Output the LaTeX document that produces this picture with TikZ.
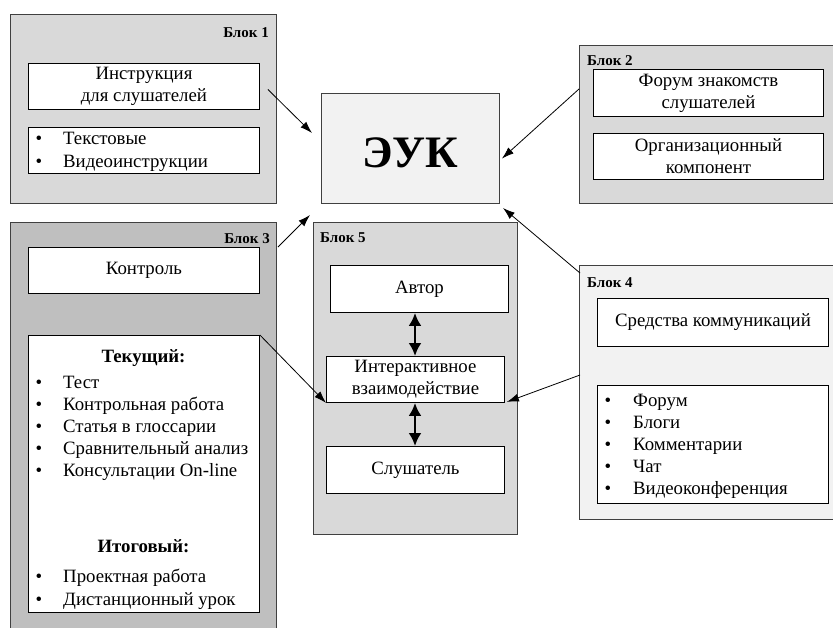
\documentclass[tikz,border=0pt]{standalone}
\usepackage{fontspec}
\setmainfont{Liberation Serif}
\usetikzlibrary{arrows.meta,calc}
\definecolor{gA}{HTML}{D9D9D9}
\definecolor{gB}{HTML}{BFBFBF}
\definecolor{gC}{HTML}{F2F2F2}
\newcommand\bodyf{\fontsize{18.8}{22}\selectfont}
\newcommand\lblf{\fontsize{15}{17}\selectfont\bfseries}
\begin{document}
\begin{tikzpicture}[x=1pt,y=-1pt,
  outer/.style={draw=black!75, line width=1pt, anchor=north west, inner sep=0pt, rectangle},
  inbox/.style={draw=black, line width=0.9pt, fill=white, anchor=north west, inner sep=0pt, align=center, font=\bodyf},
  lbl/.style={font=\lblf, inner sep=0pt},
  txt/.style={font=\bodyf, inner sep=0pt, anchor=base west},
  hdr/.style={font=\bodyf\bfseries, inner sep=0pt, anchor=base},
  bul/.style={font=\bodyf, inner sep=0pt, anchor=base},
  arr/.style={line width=0.8pt, -{Latex[length=12pt,width=8pt]}},
  dbl/.style={line width=2.5pt, {Latex[length=13pt,width=13pt]}-{Latex[length=13pt,width=13pt]}}
]
\useasboundingbox (0,0) rectangle (833,627);
% outer blocks
\node[outer, fill=gA, minimum width=266pt, minimum height=189pt] (b1) at (10,14) {};
\node[outer, fill=gA, minimum width=261pt, minimum height=158pt] (b2) at (579,45) {};
\node[outer, fill=gB, minimum width=266pt, minimum height=418pt] (b3) at (10,222) {};
\node[outer, fill=gA, minimum width=204pt, minimum height=312pt] (b5) at (313,222) {};
\node[outer, fill=gC, minimum width=261pt, minimum height=254pt] (b4) at (579,265) {};
\node[outer, fill=gC, minimum width=178pt, minimum height=110pt] (euk) at (321,93) {};
\node[font=\fontsize{45}{50}\selectfont\bfseries, inner sep=0pt] (eukt) at ($(euk.center)+(0,4)$) {ЭУК};
% labels
\node[lbl, anchor=base east] (l1) at (269,37) {Блок 1};
\node[lbl, anchor=base west] (l2) at (587,65) {Блок 2};
\node[lbl, anchor=base east] (l3) at (270,243) {Блок 3};
\node[lbl, anchor=base west] (l5) at (320,242) {Блок 5};
\node[lbl, anchor=base west] (l4) at (587,287) {Блок 4};
% block 1
\node[inbox, minimum width=231pt, minimum height=46pt] (b1i1) at (28,63) {Инструкция\\для слушателей};
\node[inbox, minimum width=231pt, minimum height=46pt] (b1i2) at (28,127) {};
\node[bul] (b1b1) at (39,144) {•};
\node[txt] (b1t1) at (63,144) {Текстовые};
\node[bul] (b1b2) at (39,167) {•};
\node[txt] (b1t2) at (63,167) {Видеоинструкции};
% block 2
\node[inbox, minimum width=230pt, minimum height=47pt] (b2i1) at (593,69) {Форум знакомств\\слушателей};
\node[inbox, minimum width=230pt, minimum height=46pt] (b2i2) at (593,133) {Организационный\\компонент};
% block 3
\node[inbox, minimum width=231pt, minimum height=46pt] (b3i1) at (28,247) {Контроль};
\node[inbox, minimum width=231pt, minimum height=277pt] (b3i2) at (28,335) {};
\node[hdr] (b3h1) at (143.5,362) {Текущий:};
\node[bul] (b3b1) at (39,388) {•};
\node[txt] (b3t1) at (63,388) {Тест};
\node[bul] (b3b2) at (39,410) {•};
\node[txt] (b3t2) at (63,410) {Контрольная работа};
\node[bul] (b3b3) at (39,432) {•};
\node[txt] (b3t3) at (63,432) {Статья в глоссарии};
\node[bul] (b3b4) at (39,454) {•};
\node[txt] (b3t4) at (63,454) {Сравнительный анализ};
\node[bul] (b3b5) at (39,476) {•};
\node[txt] (b3t5) at (63,476) {Консультации On-line};
\node[hdr] (b3h2) at (143.5,552) {Итоговый:};
\node[bul] (b3b6) at (39,582) {•};
\node[txt] (b3t6) at (63,582) {Проектная работа};
\node[bul] (b3b7) at (39,605) {•};
\node[txt] (b3t7) at (63,605) {Дистанционный урок};
% block 5
\node[inbox, minimum width=178pt, minimum height=47pt] (b5i1) at (330,265) {Автор};
\node[inbox, minimum width=178pt, minimum height=46pt] (b5i2) at (326,356) {Интерактивное\\взаимодействие};
\node[inbox, minimum width=178pt, minimum height=47pt] (b5i3) at (326,446) {Слушатель};
% block 4
\node[inbox, minimum width=231pt, minimum height=48pt] (b4i1) at (597,298) {Средства коммуникаций};
\node[inbox, minimum width=231pt, minimum height=118pt] (b4i2) at (597,385) {};
\node[bul] (b4b1) at (608,406) {•};
\node[txt] (b4t1) at (633,406) {Форум};
\node[bul] (b4b2) at (608,428) {•};
\node[txt] (b4t2) at (633,428) {Блоги};
\node[bul] (b4b3) at (608,450) {•};
\node[txt] (b4t3) at (633,450) {Комментарии};
\node[bul] (b4b4) at (608,472) {•};
\node[txt] (b4t4) at (633,472) {Чат};
\node[bul] (b4b5) at (608,494) {•};
\node[txt] (b4t5) at (633,494) {Видеоконференция};
% arrow end points
\coordinate (a1s) at ($(b1i1.east)+(8,3)$);
\coordinate (a1e) at ($(euk.north west)+(-9,40)$);
\coordinate (a2s) at ($(b2.north west)+(0,44)$);
\coordinate (a2e) at ($(euk.east)+(2,10)$);
\coordinate (a3s) at ($(b3.north east)+(1,25)$);
\coordinate (a3e) at ($(euk.south west)+(-11,11)$);
\coordinate (a4s) at ($(b4.north west)+(1,8)$);
\coordinate (a4e) at ($(euk.south east)+(3,4)$);
\coordinate (a6s) at ($(b4.north west)+(1,110)$);
\coordinate (d1s) at (b5i1.south -| 415,0);
\coordinate (d1e) at (b5i2.north -| 415,0);
\coordinate (d2s) at (b5i2.south -| 415,0);
\coordinate (d2e) at (b5i3.north -| 415,0);
% arrows
\draw[arr] (a1s) -- (a1e);
\draw[arr] (a2s) -- (a2e);
\draw[arr] (a3s) -- (a3e);
\draw[arr] (a4s) -- (a4e);
\draw[arr] (b3i2.north east) -- (b5i2.south west);
\draw[arr] (a6s) -- ($(b5i2.south east)+(2,-1)$);
\draw[dbl] (d1s) -- (d1e);
\draw[dbl] (d2s) -- (d2e);
\end{tikzpicture}
\end{document}
